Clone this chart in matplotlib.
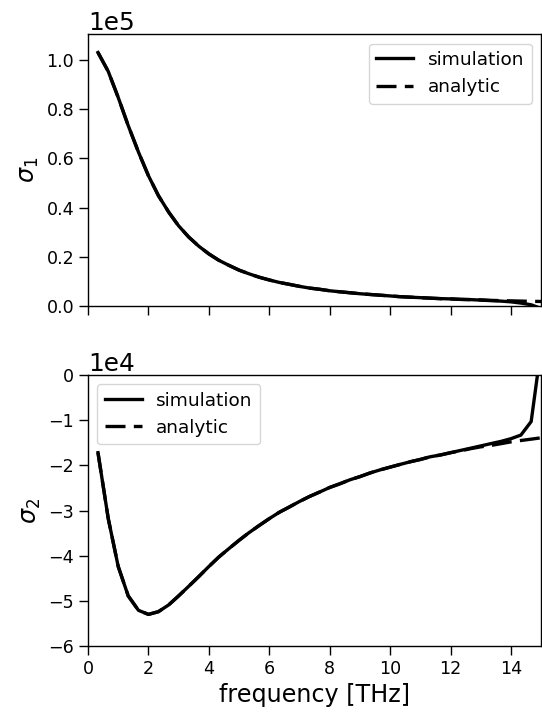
import matplotlib
matplotlib.use('Agg')
import matplotlib.pyplot as plt

# frequency grid [THz]
freq = [0.33, 0.67, 1.00, 1.33, 1.67, 2.00, 2.33, 2.67, 3.00, 3.33,
        3.67, 4.00, 4.33, 4.67, 5.00, 5.33, 5.67, 6.00, 6.33, 6.67,
        7.00, 7.33, 7.67, 8.00, 8.33, 8.67, 9.00, 9.33, 9.67, 10.00,
        10.33, 10.67, 11.00, 11.33, 11.67, 12.00, 12.33, 12.67, 13.00, 13.33,
        13.67, 14.00, 14.33, 14.67, 15.00]

# sigma_1 (x1e5)
sig1_sim = [1.031, 0.954, 0.848, 0.734, 0.626, 0.530, 0.449, 0.382, 0.326, 0.281,
            0.243, 0.212, 0.186, 0.165, 0.146, 0.131, 0.117, 0.106, 0.096, 0.088,
            0.080, 0.073, 0.068, 0.062, 0.058, 0.054, 0.050, 0.047, 0.044, 0.041,
            0.038, 0.036, 0.034, 0.032, 0.030, 0.029, 0.027, 0.026, 0.024, 0.022,
            0.020, 0.017, 0.012, 0.005, -0.010]
sig1_ana = [1.031, 0.954, 0.848, 0.734, 0.626, 0.530, 0.449, 0.382, 0.326, 0.281,
            0.243, 0.212, 0.186, 0.165, 0.146, 0.131, 0.117, 0.106, 0.096, 0.088,
            0.080, 0.073, 0.068, 0.062, 0.058, 0.054, 0.050, 0.047, 0.044, 0.041,
            0.038, 0.036, 0.034, 0.032, 0.030, 0.029, 0.027, 0.026, 0.025, 0.023,
            0.022, 0.021, 0.020, 0.019, 0.0185]

# sigma_2 (x1e4)
sig2_sim = [-1.72, -3.18, -4.24, -4.89, -5.21, -5.30, -5.24, -5.09, -4.89, -4.68,
            -4.46, -4.24, -4.03, -3.84, -3.66, -3.49, -3.33, -3.18, -3.04, -2.92,
            -2.80, -2.69, -2.59, -2.49, -2.41, -2.32, -2.25, -2.17, -2.10, -2.04,
            -1.98, -1.92, -1.87, -1.81, -1.77, -1.72, -1.67, -1.62, -1.57, -1.52,
            -1.47, -1.41, -1.33, -1.03, 0.60]
sig2_ana = [-1.72, -3.18, -4.24, -4.89, -5.21, -5.30, -5.24, -5.09, -4.89, -4.68,
            -4.46, -4.24, -4.03, -3.84, -3.66, -3.49, -3.33, -3.18, -3.04, -2.92,
            -2.80, -2.69, -2.59, -2.49, -2.41, -2.32, -2.25, -2.17, -2.10, -2.04,
            -1.98, -1.92, -1.87, -1.81, -1.77, -1.72, -1.68, -1.63, -1.59, -1.56,
            -1.52, -1.48, -1.45, -1.42, -1.39]

tick_fs = 12.6
legend_fs = 13.3
label_fs = 17.2
offset_fs = 17.8
lw = 2.4
dash = (6, 2.5)

fig = plt.figure(figsize=(5.42, 7.15), dpi=100)
ax1 = fig.add_axes([0.1624, 0.572, 0.836, 0.380])
ax2 = fig.add_axes([0.1624, 0.0965, 0.836, 0.379])

ax1.plot(freq, [v * 1e5 for v in sig1_sim], 'k-', lw=lw, label='simulation')
ax1.plot(freq, [v * 1e5 for v in sig1_ana], 'k--', lw=lw, dashes=dash, label='analytic')
ax1.set_xlim(0, 15)
ax1.set_ylim(0, 1.105e5)
ax1.set_ylabel(r'$\sigma_1$', fontsize=label_fs)
ax1.set_xticklabels([])
ax1.legend(loc='upper right', fontsize=legend_fs)

ax2.plot(freq, [v * 1e4 for v in sig2_sim], 'k-', lw=lw, label='simulation')
ax2.plot(freq, [v * 1e4 for v in sig2_ana], 'k--', lw=lw, dashes=dash, label='analytic')
ax2.set_xlim(0, 15)
ax2.set_ylim(-6e4, 0)
ax2.set_ylabel(r'$\sigma_2$', fontsize=label_fs)
ax2.set_xlabel('frequency [THz]', fontsize=label_fs)
ax2.legend(loc='upper left', fontsize=legend_fs)

for ax in (ax1, ax2):
    ax.set_xticks(range(0, 15, 2))
    ax.ticklabel_format(axis='y', style='sci', scilimits=(0, 0))
    ax.yaxis.get_offset_text().set_fontsize(offset_fs)
    ax.tick_params(labelsize=tick_fs, length=6.5, width=1)
    for sp in ax.spines.values():
        sp.set_linewidth(1)

fig.savefig('out.png', dpi=100)
